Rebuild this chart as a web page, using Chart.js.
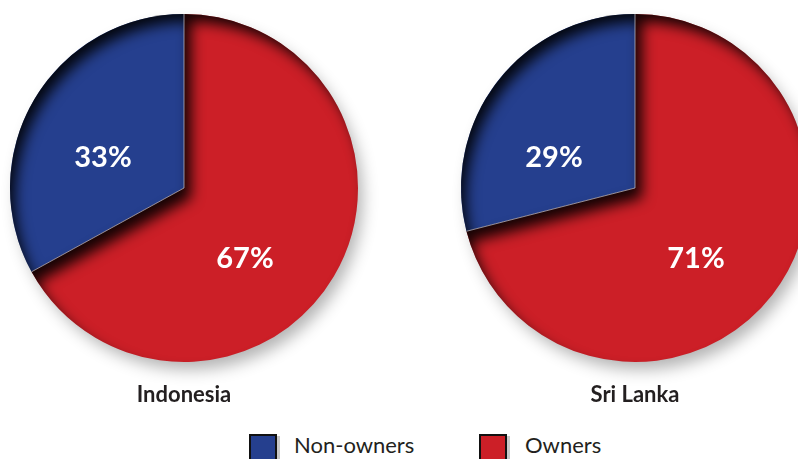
<!DOCTYPE html>
<html><head><meta charset="utf-8">
<script src="https://cdn.jsdelivr.net/npm/chart.js@4.4.1/dist/chart.umd.min.js"></script>
<style>
html,body{margin:0;padding:0;width:798px;height:459px;overflow:hidden;background:#fff;}
body{position:relative;}
canvas{position:absolute;}
#c1{left:0;top:0;}
#c2{left:400px;top:0;}
.title{position:absolute;top:381px;font:bold 22px Lato, sans-serif;line-height:26px;color:#231f20;width:200px;text-align:center;}
.lg-box{position:absolute;top:434px;width:24px;height:26px;border:2px solid #111;box-shadow:3px 2px 0 #c8c8c8;}
.lg-text{position:absolute;top:432px;font:22px Lato, sans-serif;line-height:26px;color:#231f20;white-space:nowrap;}
</style>
</head><body>
<canvas id="c1" width="398" height="400"></canvas>
<canvas id="c2" width="460" height="400"></canvas>
<div class="title" id="t1" style="left:84px"></div>
<div class="title" id="t2" style="left:535px"></div>
<div class="lg-box" id="b1" style="left:249px"></div>
<div class="lg-text" id="l1" style="left:294px"></div>
<div class="lg-box" id="b2" style="left:479px"></div>
<div class="lg-text" id="l2" style="left:525px"></div>
<script>
// ---- data ----
const categories = ['Owners', 'Non-owners'];
const countries = ['Indonesia', 'Sri Lanka'];
const indonesiaValues = [67, 33];
const sriLankaValues = [71, 29];
const legendOrder = ['Non-owners', 'Owners'];

// ---- style ----
const colors = {'Owners': '#cc1f27', 'Non-owners': '#253f8e'};
const labelOffsets = {'Owners': [61, 80], 'Non-owners': [-81, -21]};

const shadowPlugin = {
  id: 'fx',
  beforeDatasetsDraw(chart) {
    const meta = chart.getDatasetMeta(0);
    const a = meta.data[0];
    const ctx = chart.ctx;
    ctx.save();
    ctx.shadowColor = 'rgba(0,0,0,0.30)';
    ctx.shadowBlur = 16;
    ctx.shadowOffsetX = 6;
    ctx.shadowOffsetY = 9;
    ctx.beginPath();
    ctx.arc(a.x, a.y, a.outerRadius - 1.5, 0, Math.PI * 2);
    ctx.fillStyle = '#cc1f27';
    ctx.fill();
    ctx.restore();
  },
  afterDatasetsDraw(chart) {
    const meta = chart.getDatasetMeta(0);
    const ctx = chart.ctx;
    const ds = chart.data.datasets[0];
    meta.data.forEach((a, i) => {
      ctx.save();
      ctx.beginPath();
      ctx.moveTo(a.x, a.y);
      ctx.arc(a.x, a.y, a.outerRadius, a.startAngle, a.endAngle);
      ctx.closePath();
      ctx.clip();
      ctx.beginPath();
      ctx.rect(-2000, -2000, 5000, 5000);
      ctx.moveTo(a.x, a.y);
      ctx.arc(a.x, a.y, a.outerRadius + 2, a.startAngle, a.endAngle);
      ctx.closePath();
      ctx.shadowColor = 'rgba(0,0,0,0.9)';
      ctx.shadowBlur = 14;
      ctx.shadowOffsetX = 7;
      ctx.shadowOffsetY = 10;
      ctx.fillStyle = '#000';
      ctx.fill('evenodd');
      ctx.restore();
    });
    // separators
    meta.data.forEach((a) => {
      ctx.save();
      ctx.strokeStyle = 'rgba(200,200,210,0.7)';
      ctx.lineWidth = 1;
      ctx.beginPath();
      ctx.moveTo(a.x, a.y);
      ctx.lineTo(a.x + a.outerRadius * Math.cos(a.startAngle), a.y + a.outerRadius * Math.sin(a.startAngle));
      ctx.stroke();
      ctx.restore();
    });
    // value labels
    const s = meta.data[0].outerRadius / 174;
    meta.data.forEach((a, i) => {
      const cat = chart.data.labels[i];
      const off = labelOffsets[cat];
      ctx.save();
      ctx.font = 'bold 29px Lato, sans-serif';
      ctx.fillStyle = '#ffffff';
      ctx.textAlign = 'center';
      ctx.textBaseline = 'alphabetic';
      ctx.fillText(ds.data[i] + '%', a.x + off[0] * s, a.y + off[1] * s);
      ctx.restore();
    });
  }
};

function makePie(id, values, pad) {
  return new Chart(document.getElementById(id), {
    type: 'pie',
    data: {
      labels: categories,
      datasets: [{
        data: values,
        backgroundColor: categories.map(c => colors[c]),
        borderWidth: 0,
        offset: 0,
        hoverOffset: 0
      }]
    },
    options: {
      responsive: false,
      animation: false,
      events: [],
      layout: {padding: pad},
      plugins: {legend: {display: false}, tooltip: {enabled: false}, title: {display: false}}
    },
    plugins: [shadowPlugin]
  });
}

makePie('c1', indonesiaValues, {left: 10, top: 14, right: 40, bottom: 38});
makePie('c2', sriLankaValues, {left: 61, top: 14, right: 51, bottom: 38});

document.getElementById('t1').textContent = countries[0];
document.getElementById('t2').textContent = countries[1];
document.getElementById('l1').textContent = legendOrder[0];
document.getElementById('l2').textContent = legendOrder[1];
document.getElementById('b1').style.background = colors[legendOrder[0]];
document.getElementById('b2').style.background = colors[legendOrder[1]];
</script>
</body></html>
